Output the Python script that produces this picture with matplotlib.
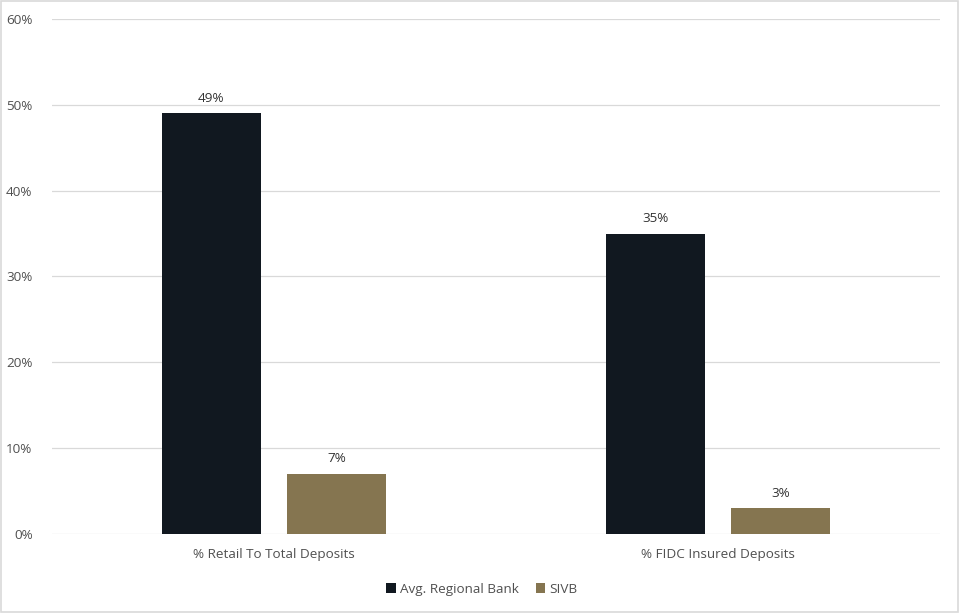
import numpy as np
from matplotlib import pyplot as plt
from matplotlib.patches import Rectangle

categories = ['% Retail To Total Deposits', '% FIDC Insured Deposits']
regional = [49, 35]
sivb = [7, 3]
series_names = ['Avg. Regional Bank', 'SIVB']
yticks = [0, 10, 20, 30, 40, 50, 60]

dark = '#111820'
olive = '#857550'
grey = '#505050'

plt.rcParams['font.family'] = ['Open Sans', 'DejaVu Sans']

fig = plt.figure(figsize=(9.59, 6.13), dpi=100)
ax = fig.add_axes([0.0542, 0.1289, 0.9258, 0.8401])

x = np.arange(len(categories))
w = 0.223
off = 0.141
b1 = ax.bar(x - off, regional, w, color=dark, label=series_names[0], zorder=3)
b2 = ax.bar(x + off, sivb, w, color=olive, label=series_names[1], zorder=3)

for bars in (b1, b2):
    for r in bars:
        ax.text(r.get_x() + r.get_width() / 2, r.get_height() + 1.0,
                '%d%%' % r.get_height(), ha='center', va='bottom',
                fontsize=9.7, color='#333333')

ax.set_xlim(-0.5, 1.5)
ax.set_ylim(0, 60)
ax.set_yticks(yticks)
ax.set_yticklabels(['%d%%' % t for t in yticks], fontsize=9.7, color=grey)
ax.set_xticks(x)
ax.set_xticklabels(categories, fontsize=9.7, color=grey)
ax.tick_params(length=0, pad=10)
ax.tick_params(axis='y', pad=14)
ax.grid(axis='y', color='#d9d9d9', linewidth=0.9, zorder=0)
for s in ax.spines.values():
    s.set_visible(False)

ax.legend(loc='center', bbox_to_anchor=(0.5025 / 0.9258 - 0.0542 / 0.9258, -0.107), ncol=2,
          frameon=False, fontsize=9.7, labelcolor=grey, handlelength=0.7,
          handleheight=0.7, handletextpad=0.3, columnspacing=1.3)

fig.patches.append(Rectangle((0.001, 0.001), 0.998, 0.998, transform=fig.transFigure,
                             fill=False, edgecolor='#d9d9d9', linewidth=1.2))

fig.savefig('out.png', dpi=100)
